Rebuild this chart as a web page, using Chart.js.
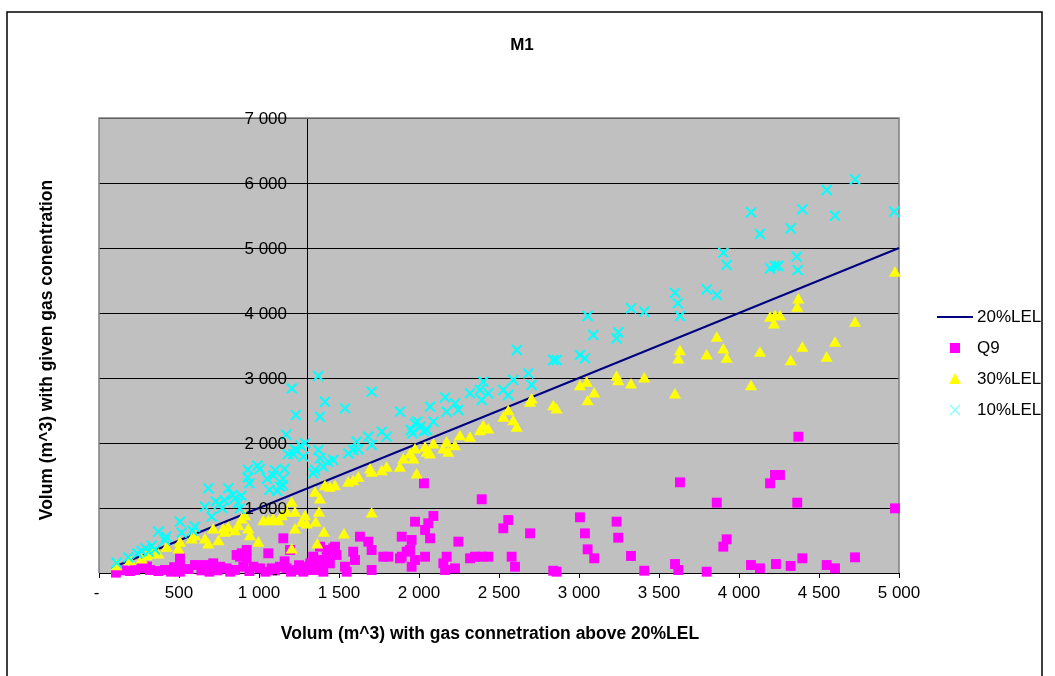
<!DOCTYPE html>
<html>
<head>
<meta charset="utf-8">
<title>M1</title>
<script src="https://cdn.jsdelivr.net/npm/chart.js"></script>
<style>
  html, body { margin: 0; padding: 0; background: #fff; }
  #wrap { width: 1055px; height: 676px; }
</style>
</head>
<body>
<div id="wrap"><canvas id="chart" width="1055" height="676"></canvas></div>
<script>
// series names, in legend order
const seriesNames = ['20%LEL', 'Q9', '30%LEL', '10%LEL'];

// tick labels (Excel style, "-" for zero)
const xTickLabels = ['- ', '500', '1 000', '1 500', '2 000', '2 500', '3 000', '3 500', '4 000', '4 500', '5 000'];
const yTickLabels = ['-  ', '1 000', '2 000', '3 000', '4 000', '5 000', '6 000', '7 000'];

// value axis crosses the x axis here
const yAxisCross = 1300;

// 20%LEL reference line [x, y]
const lel20 = [[100, 100], [5000, 5000]];

// Q9 [x, y]
const q9 = [[106,5],[150,40],[194,30],[225,46],[267,77],[300,100],[319,46],[371,30],[412,46],[450,20],[470,90],
  [506,226],[506,123],[506,20],[560,60],[600,123],[640,40],[662,123],[690,20],[714,149],[740,40],[756,97],[798,72],
  [820,20],[850,46],[860,277],[881,251],[892,303],[902,97],[923,354],[923,226],[940,30],[965,97],[1006,72],[1040,20],
  [1058,303],[1079,72],[1100,40],[1131,97],[1152,534],[1160,180],[1173,72],[1194,354],[1200,20],[1235,46],[1250,120],
  [1277,20],[1298,97],[1298,46],[1320,150],[1339,72],[1339,251],[1350,46],[1371,200],[1381,72],[1381,405],[1402,20],
  [1412,200],[1423,251],[1433,354],[1443,149],[1464,380],[1475,405],[1485,277],[1537,97],[1548,20],[1589,328],[1600,200],
  [1631,559],[1683,482],[1704,354],[1704,46],[1777,251],[1808,251],[1881,226],[1892,251],[1892,559],[1923,328],[1944,354],
  [1954,97],[1954,508],[1975,200],[1975,789],[2031,1380],[2038,251],[2038,662],[2058,765],[2069,534],[2090,877],[2152,149],
  [2163,46],[2173,251],[2225,72],[2246,482],[2319,226],[2350,251],[2392,251],[2392,1134],[2433,251],[2527,688],[2558,815],
  [2579,251],[2600,97],[2694,610],[2839,35],[2860,20],[3006,857],[3037,610],[3054,364],[3095,226],[3235,790],[3245,543],
  [3325,262],[3408,35],[3600,138],[3621,46],[3631,1395],[3798,20],[3861,1082],[3902,405],[3923,518],[4075,123],[4131,72],
  [4194,1380],[4225,1508],[4231,138],[4256,1508],[4323,108],[4364,1082],[4371,2097],[4396,226],[4548,123],[4600,72],
  [4725,241],[4975,995]];

// 30%LEL [x, y]
const lel30 = [[110,97],[194,174],[267,200],[298,251],[319,277],[340,328],[371,277],[423,380],[496,354],[506,457],
  [579,508],[600,559],[662,508],[683,431],[714,662],[746,482],[777,662],[787,610],[808,687],[850,636],[871,713],[892,815],
  [912,866],[933,662],[944,559],[996,457],[1027,790],[1058,790],[1089,815],[1121,790],[1142,866],[1173,918],[1204,1072],
  [1204,354],[1225,918],[1225,662],[1267,764],[1288,866],[1298,738],[1350,1226],[1354,764],[1364,431],[1375,918],
  [1381,1123],[1406,610],[1412,1328],[1443,1303],[1475,1328],[1531,585],[1558,1380],[1589,1405],[1621,1457],[1694,1585],
  [1704,1534],[1704,908],[1767,1559],[1798,1611],[1881,1611],[1902,1738],[1944,1815],[1965,1738],[1975,1892],[1985,1508],
  [2038,1918],[2048,1841],[2069,1815],[2090,1969],[2152,1892],[2173,1995],[2183,1841],[2225,1943],[2256,2097],[2319,2072],
  [2381,2174],[2402,2251],[2433,2200],[2527,2380],[2558,2482],[2589,2328],[2611,2226],[2694,2610],[2704,2662],[2839,2559],
  [2860,2508],[3006,2867],[3048,2918],[3054,2635],[3095,2754],[3235,3011],[3245,2943],[3325,2892],[3408,2985],[3600,2738],
  [3621,3277],[3631,3405],[3798,3339],[3861,3611],[3902,3431],[3923,3288],[4075,2867],[4131,3380],[4194,3918],[4219,3815],
  [4225,3943],[4256,3943],[4323,3251],[4364,4072],[4371,4200],[4396,3457],[4548,3303],[4600,3534],[4725,3841],[4975,4611]];

// 10%LEL [x, y]
const lel10 = [[110,158],[183,241],[240,300],[265,340],[290,380],[310,330],[330,420],[350,360],[371,636],[412,508],
  [420,560],[506,789],[517,620],[585,650],[600,712],[662,1020],[683,1303],[704,866],[730,1100],[750,1060],[770,1000],
  [785,1120],[808,1303],[835,1200],[850,1150],[870,1080],[880,990],[890,1190],[930,1470],[930,1590],[940,1380],[990,1650],
  [1005,1600],[1050,1450],[1065,1280],[1090,1500],[1100,1580],[1115,1260],[1130,1330],[1150,1350],[1150,1450],[1160,1600],
  [1170,2130],[1180,1830],[1205,2840],[1215,1830],[1225,1900],[1230,2430],[1240,1880],[1260,1960],[1277,1790],[1288,1995],
  [1339,1534],[1350,1585],[1370,3031],[1371,1892],[1381,1764],[1381,2405],[1402,1635],[1412,2635],[1433,1712],[1464,1738],
  [1537,2533],[1558,1841],[1589,1892],[1610,2020],[1621,1903],[1683,2097],[1704,1969],[1704,2789],[1767,2174],[1798,2097],
  [1881,2482],[1950,2200],[1960,2150],[1975,2300],[1990,2330],[2010,2250],[2030,2180],[2050,2200],[2069,2559],[2090,2328],
  [2163,2703],[2173,2482],[2225,2610],[2246,2508],[2319,2764],[2381,2815],[2392,2662],[2402,2943],[2433,2764],[2527,2815],
  [2558,2738],[2589,2969],[2611,3431],[2683,3072],[2704,2892],[2839,3277],[2860,3277],[3006,3354],[3037,3303],[3054,3954],
  [3089,3662],[3235,3611],[3245,3703],[3325,4072],[3408,4020],[3600,4310],[3617,4149],[3631,3954],[3798,4364],[3861,4277],
  [3902,4928],[3923,4739],[4075,5549],[4131,5215],[4194,4687],[4225,4723],[4246,4723],[4323,5303],[4360,4866],[4367,4661],
  [4396,5595],[4548,5892],[4600,5497],[4725,6057],[4971,5559]];

const FONT = "'Liberation Sans', Arial, sans-serif";
const toPoints = arr => arr.map(p => ({ x: p[0], y: p[1] }));

// plot background, outer frame, titles, y labels and legend
const decor = {
  id: 'decor',
  beforeDraw(chart) {
    const { ctx, chartArea: a } = chart;
    ctx.save();
    ctx.fillStyle = '#fff';
    ctx.fillRect(0, 0, chart.width, chart.height);
    ctx.fillStyle = '#c0c0c0';
    ctx.fillRect(a.left, a.top, a.right - a.left, a.bottom - a.top);
    ctx.strokeStyle = '#000';
    ctx.lineWidth = 1.5;
    ctx.strokeRect(7, 12, 1035, 700);
    ctx.restore();
  },
  beforeDatasetsDraw(chart) {
    const { ctx, chartArea: a } = chart;
    ctx.save();
    ctx.strokeStyle = '#808080';
    ctx.lineWidth = 1.5;
    ctx.beginPath();
    ctx.moveTo(a.left, a.bottom);
    ctx.lineTo(a.left, a.top);
    ctx.lineTo(a.right, a.top);
    ctx.lineTo(a.right, a.bottom);
    ctx.stroke();
    ctx.restore();
  },
  afterDatasetsDraw(chart) {
    // y tick labels sit left of the crossing value axis, over the marks
    const { ctx, scales } = chart;
    const xAxisPx = scales.x.getPixelForValue(yAxisCross);
    ctx.save();
    ctx.fillStyle = '#000';
    ctx.font = '17px ' + FONT;
    ctx.textAlign = 'right';
    ctx.textBaseline = 'middle';
    scales.y.ticks.forEach((t, i) => {
      ctx.fillText(yTickLabels[i], xAxisPx - 20, scales.y.getPixelForValue(t.value) + 1);
    });
    ctx.restore();
  },
  afterDraw(chart) {
    const { ctx } = chart;
    ctx.save();
    ctx.fillStyle = '#000';
    ctx.textAlign = 'center';
    ctx.textBaseline = 'middle';
    ctx.font = 'bold 17px ' + FONT;
    ctx.fillText('M1', 522, 45);
    ctx.font = 'bold 17.5px ' + FONT;
    ctx.fillText('Volum (m^3) with gas connetration above 20%LEL', 490, 634);
    ctx.translate(47, 350);
    ctx.rotate(-Math.PI / 2);
    ctx.fillText('Volum (m^3) with given gas conentration', 0, 0);
    ctx.restore();

    // legend
    ctx.save();
    const lx = 955, ly = 317, step = 31;
    ctx.font = '17px ' + FONT;
    ctx.textAlign = 'left';
    ctx.textBaseline = 'middle';
    seriesNames.forEach((name, i) => {
      const y = ly + i * step;
      ctx.fillStyle = '#000';
      ctx.fillText(name, 977, y);
      if (i === 0) {
        ctx.strokeStyle = '#000080';
        ctx.lineWidth = 2;
        ctx.beginPath(); ctx.moveTo(937, y); ctx.lineTo(973, y); ctx.stroke();
      } else if (i === 1) {
        ctx.fillStyle = '#ff00ff';
        ctx.fillRect(lx - 5, y - 5, 10, 10);
      } else if (i === 2) {
        ctx.fillStyle = '#ffff00';
        ctx.beginPath(); ctx.moveTo(lx, y - 6); ctx.lineTo(lx + 6, y + 5); ctx.lineTo(lx - 6, y + 5); ctx.closePath(); ctx.fill();
      } else {
        ctx.strokeStyle = '#7fffff';
        ctx.lineWidth = 1.2;
        ctx.beginPath();
        ctx.moveTo(lx - 5, y - 5); ctx.lineTo(lx + 5, y + 5);
        ctx.moveTo(lx + 5, y - 5); ctx.lineTo(lx - 5, y + 5);
        ctx.stroke();
      }
    });
    ctx.restore();
  }
};

new Chart(document.getElementById('chart'), {
  type: 'scatter',
  data: {
    datasets: [
      {
        label: seriesNames[0], data: toPoints(lel20), showLine: true,
        borderColor: '#000080', borderWidth: 2, pointRadius: 0, order: 4, clip: false
      },
      {
        label: seriesNames[1], data: toPoints(q9), pointStyle: 'rect', pointRadius: 7,
        pointBackgroundColor: '#ff00ff', pointBorderColor: '#ff00ff', pointBorderWidth: 0, order: 3, clip: false
      },
      {
        label: seriesNames[2], data: toPoints(lel30), pointStyle: 'triangle', pointRadius: 7,
        pointBackgroundColor: '#ffff00', pointBorderColor: '#ffff00', pointBorderWidth: 0, order: 2, clip: false
      },
      {
        label: seriesNames[3], data: toPoints(lel10), pointStyle: 'crossRot', pointRadius: 7,
        pointBorderColor: '#00ffff', pointBorderWidth: 2, order: 1, clip: false
      }
    ]
  },
  options: {
    responsive: false,
    animation: false,
    events: [],
    layout: { padding: { left: 99, right: 156, top: 118, bottom: 63 } },
    plugins: {
      legend: { display: false },
      tooltip: { enabled: false },
      title: { display: false }
    },
    scales: {
      x: {
        type: 'linear', position: 'bottom', min: 0, max: 5000,
        ticks: {
          stepSize: 500, autoSkip: false, maxRotation: 0, padding: 5, color: '#000',
          font: { family: FONT, size: 17 },
          callback: (v, i) => xTickLabels[i]
        },
        grid: { drawOnChartArea: false, drawTicks: true, tickLength: 5, color: '#000' },
        border: { color: '#000', width: 1 },
        afterFit(scale) { scale.height = 40; }
      },
      y: {
        type: 'linear', position: { x: yAxisCross }, min: 0, max: 7000,
        ticks: { stepSize: 1000, autoSkip: false, display: false },
        grid: { color: '#000', lineWidth: 1, drawTicks: true, tickLength: 4 },
        border: { color: '#000', width: 1 }
      }
    }
  },
  plugins: [decor]
});
</script>
</body>
</html>
